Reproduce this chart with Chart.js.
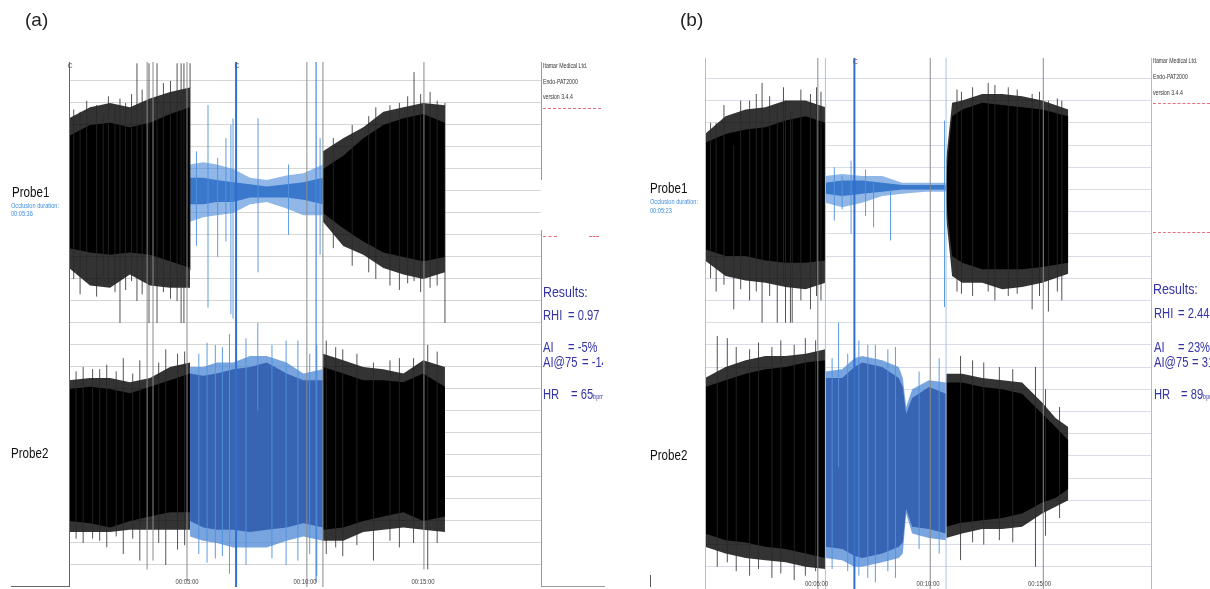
<!DOCTYPE html>
<html>
<head>
<meta charset="utf-8">
<script src="https://cdn.jsdelivr.net/npm/chart.js@4.4.0/dist/chart.umd.min.js"></script>
<style>
  body { margin: 0; width: 1210px; height: 589px; overflow: hidden; background: #fff; position: relative;
         font-family: "Liberation Sans", Arial, sans-serif; }
  canvas { position: absolute; top: 0; }
  .t { position: absolute; white-space: pre; line-height: 1; }
  .n { transform: scaleX(0.8); transform-origin: 0 0; }
  .probe { font-size: 14.5px; color: #111; }
  .occ { font-size: 7px; color: #3d8de0; }
  .hdr { font-size: 6.5px; color: #333; }
  .res { font-size: 14px; color: #3434a6; }
  .res small { font-size: 7px; }
  .clip { position: absolute; overflow: hidden; top: 0; height: 589px; }
  .red { position: absolute; height: 0; border-top: 1px dashed #e27080; }
</style>
</head>
<body>
<canvas id="chartA" width="605" height="589" style="left:0"></canvas>
<canvas id="chartB" width="570" height="589" style="left:640px"></canvas>

<!-- panel (a) text -->
<div class="t" style="left:25px;top:10px;font-size:19px;color:#222">(a)</div>
<div class="t n probe" style="left:12px;top:185px">Probe1</div>
<div class="t n occ" style="left:11px;top:202px">Occlusion duration:</div>
<div class="t n occ" style="left:11px;top:210px">00:05:36</div>
<div class="t n probe" style="left:11px;top:446px">Probe2</div>
<div style="position:absolute;left:541px;top:180px;width:20px;height:50px;background:#fff"></div>
<div class="clip" style="left:541px;width:62px">
  <div class="t n hdr" style="left:2px;top:63px">Itamar Medical Ltd.</div>
  <div class="t n hdr" style="left:2px;top:79px">Endo-PAT2000</div>
  <div class="t n hdr" style="left:2px;top:94px">version 3.4.4</div>
  <div class="red" style="left:2px;top:108px;width:58px"></div>
  <div class="red" style="left:2px;top:236px;width:14px"></div>
  <div class="red" style="left:48px;top:236px;width:10px"></div>
  <div class="t n res" style="left:2px;top:284px;font-size:15.5px">Results:</div>
  <div class="t n res" style="left:2px;top:308px">RHI</div>
  <div class="t n res" style="left:27px;top:308px">= 0.97</div>
  <div class="t n res" style="left:2px;top:340px">AI</div>
  <div class="t n res" style="left:27px;top:340px">= -5%</div>
  <div class="t n res" style="left:2px;top:355px">AI@75</div>
  <div class="t n res" style="left:41px;top:355px">= -14</div>
  <div class="t n res" style="left:2px;top:387px">HR</div>
  <div class="t n res" style="left:30px;top:387px">= 65<small>bpm</small></div>
</div>

<!-- panel (b) text -->
<div class="t" style="left:680px;top:10px;font-size:19px;color:#222">(b)</div>
<div class="t n probe" style="left:650px;top:181px">Probe1</div>
<div class="t n occ" style="left:650px;top:198px">Occlusion duration:</div>
<div class="t n occ" style="left:650px;top:207px">00:05:23</div>
<div class="t n probe" style="left:650px;top:448px">Probe2</div>
<div style="position:absolute;left:650px;top:575px;width:1px;height:12px;background:#555"></div>
<div class="clip" style="left:1151px;width:59px">
  <div class="t n hdr" style="left:2px;top:58px">Itamar Medical Ltd.</div>
  <div class="t n hdr" style="left:2px;top:74px">Endo-PAT2000</div>
  <div class="t n hdr" style="left:2px;top:90px">version 3.4.4</div>
  <div class="red" style="left:2px;top:103px;width:57px"></div>
  <div class="red" style="left:2px;top:232px;width:57px"></div>
  <div class="t n res" style="left:2px;top:281px;font-size:15.5px">Results:</div>
  <div class="t n res" style="left:3px;top:306px">RHI</div>
  <div class="t n res" style="left:27px;top:306px">= 2.44</div>
  <div class="t n res" style="left:3px;top:340px">AI</div>
  <div class="t n res" style="left:27px;top:340px">= 23%</div>
  <div class="t n res" style="left:3px;top:355px">AI@75</div>
  <div class="t n res" style="left:41px;top:355px">= 31</div>
  <div class="t n res" style="left:3px;top:387px">HR</div>
  <div class="t n res" style="left:30px;top:387px">= 89<small>bpm</small></div>
</div>

<script>
// time axis (minutes) and tick labels
const timeTicks = [5, 10, 15];
const tickLabels = ["00:05:00", "00:10:00", "00:15:00"];

// envelope rows: [time min, outer top, inner top, inner bottom, outer bottom]  (grid units)
// panel (a) probe 1
const a1Pre = [
  [0.00, 21.3, 20.5, 15.4, 14.5], [0.89, 21.8, 21.0, 15.2, 13.7], [1.74, 22.0, 21.1, 15.1, 13.6],
  [2.58, 21.8, 20.9, 15.2, 14.2], [3.43, 22.2, 21.1, 15.1, 13.7], [4.28, 22.5, 21.5, 14.8, 13.6],
  [5.13, 22.7, 21.8, 14.5, 13.6]
];
const a1Occ = [
  [5.13, 19.2, 18.6, 17.4, 16.6], [5.69, 19.3, 18.6, 17.4, 16.8], [6.26, 19.2, 18.5, 17.5, 16.9],
  [6.96, 19.0, 18.4, 17.5, 17.0], [7.67, 18.6, 18.3, 17.7, 17.4], [8.38, 18.5, 18.2, 17.7, 17.5],
  [9.22, 18.7, 18.3, 17.7, 17.2], [9.93, 18.8, 18.4, 17.6, 16.9], [10.76, 19.2, 18.6, 17.4, 16.9]
];
const a1Post = [
  [10.76, 19.8, 19.0, 17.0, 16.6], [11.62, 20.4, 19.6, 16.3, 15.5], [12.47, 20.9, 20.4, 15.7, 15.1],
  [13.32, 21.6, 21.0, 15.2, 14.5], [14.17, 21.8, 21.3, 15.0, 14.2], [15.01, 22.0, 21.5, 14.8, 14.0],
  [15.93, 21.9, 21.1, 15.0, 14.3]
];
// panel (a) probe 2
const a2Pre = [
  [0.00, 9.4, 9.0, 3.0, 2.5], [0.89, 9.5, 9.1, 2.9, 2.5], [1.74, 9.5, 9.0, 2.7, 2.5],
  [2.58, 9.3, 8.8, 3.0, 2.6], [3.43, 9.5, 9.1, 3.2, 2.6], [4.28, 10.0, 9.4, 3.4, 2.6],
  [5.13, 10.2, 9.7, 3.4, 2.6]
];
const a2Occ = [
  [5.13, 10.0, 9.7, 3.0, 2.3], [5.69, 10.0, 9.6, 2.7, 2.1], [6.26, 10.2, 9.7, 2.6, 2.0],
  [6.96, 10.2, 9.9, 2.6, 1.8], [7.67, 10.5, 10.0, 2.5, 1.8], [8.38, 10.5, 10.2, 2.6, 1.8],
  [9.22, 10.2, 9.7, 2.7, 2.1], [9.93, 9.7, 9.4, 2.9, 2.3], [10.76, 9.9, 9.4, 2.7, 2.1]
];
const a2Post = [
  [10.76, 10.6, 10.0, 2.6, 2.1], [11.62, 10.3, 9.7, 2.7, 2.1], [12.47, 10.0, 9.4, 3.0, 2.5],
  [13.32, 9.9, 9.4, 3.2, 2.6], [14.17, 9.7, 9.3, 3.4, 2.7], [15.01, 10.3, 9.7, 3.0, 2.6],
  [15.93, 10.0, 9.1, 3.2, 2.5]
];
// panel (b) probe 1
const b1Pre = [
  [0.00, 20.5, 20.1, 15.3, 14.8], [0.92, 21.3, 20.5, 15.0, 14.1], [1.82, 21.6, 20.7, 15.0, 13.9],
  [2.71, 21.7, 20.8, 14.8, 13.8], [3.61, 22.0, 21.1, 14.7, 13.6], [4.51, 22.0, 21.3, 14.7, 13.5],
  [5.40, 21.7, 21.0, 14.8, 13.8]
];
const b1Occ = [
  [5.40, 18.6, 18.3, 17.8, 17.4], [6.15, 18.7, 18.4, 17.7, 17.2], [7.05, 18.6, 18.4, 17.8, 17.4],
  [7.95, 18.6, 18.3, 17.9, 17.7], [8.84, 18.3, 18.2, 18.0, 17.8], [9.89, 18.3, 18.2, 18.0, 17.9],
  [10.81, 18.3, 18.2, 18.0, 17.9]
];
const b1Post = [
  [10.81, 19.3, 18.6, 17.5, 16.8], [11.08, 21.9, 21.3, 15.0, 14.1], [11.53, 22.0, 21.6, 14.7, 13.8],
  [12.43, 22.3, 21.9, 14.4, 13.8], [13.33, 22.3, 21.8, 14.4, 13.5], [14.22, 22.2, 21.7, 14.4, 13.6],
  [15.12, 22.0, 21.6, 14.5, 13.8], [16.29, 21.6, 21.3, 14.7, 14.2]
];
// panel (b) probe 2
const b2Pre = [
  [0.00, 9.5, 9.1, 2.5, 1.9], [0.92, 10.0, 9.4, 2.2, 1.6], [1.82, 10.3, 9.7, 2.1, 1.4],
  [2.71, 10.5, 9.9, 1.9, 1.3], [3.61, 10.5, 10.0, 1.8, 1.2], [4.51, 10.6, 10.2, 1.6, 1.0],
  [5.40, 10.8, 10.3, 1.4, 0.9]
];
const b2Occ = [
  [5.40, 9.8, 9.5, 1.9, 1.4], [6.15, 9.9, 9.5, 1.8, 1.3], [6.70, 10.4, 10.0, 1.5, 1.0],
  [7.05, 10.5, 10.2, 1.4, 1.0], [7.95, 10.3, 10.0, 1.6, 1.2], [8.69, 10.0, 9.5, 1.9, 1.4],
  [8.87, 9.5, 9.1, 2.1, 1.6], [9.02, 8.2, 7.9, 3.6, 3.4], [9.29, 9.0, 8.6, 2.8, 2.5],
  [10.04, 9.4, 9.1, 2.7, 2.3], [10.81, 9.3, 8.8, 2.5, 2.2]
];
const b2Post = [
  [10.81, 9.7, 9.3, 2.8, 2.3], [11.53, 9.7, 9.3, 3.0, 2.5], [12.43, 9.5, 9.1, 3.1, 2.7],
  [13.33, 9.4, 9.0, 3.2, 2.7], [14.22, 9.3, 8.8, 3.4, 2.8], [15.12, 8.4, 7.9, 3.9, 3.4],
  [15.72, 7.7, 7.3, 4.1, 3.7], [16.29, 7.3, 6.7, 4.5, 4.0]
];

// artifact spikes: [time, low, high]
const spikesGrayA = [
  [0.20, 14.0, 21.7], [0.47, 13.3, 21.6], [0.75, 13.9, 22.1], [1.17, 13.2, 21.9], [1.45, 14.1, 21.5],
  [1.67, 13.8, 22.3], [1.95, 13.4, 21.8], [2.16, 12.0, 22.2], [2.40, 13.5, 22.0], [2.65, 13.9, 22.4],
  [2.88, 13.0, 23.8], [3.10, 13.3, 22.6], [3.39, 12.0, 23.8], [3.73, 12.0, 23.8], [4.00, 13.4, 22.9],
  [4.30, 13.1, 23.0], [4.58, 13.0, 23.8], [4.75, 12.0, 23.8], [4.87, 12.0, 23.8], [5.13, 14.4, 23.8],
  [11.20, 15.4, 20.4], [12.00, 14.6, 21.0], [12.70, 14.3, 21.4], [13.00, 14.0, 21.8], [13.60, 13.7, 21.9],
  [14.00, 13.5, 22.0], [14.35, 13.8, 22.3], [14.62, 13.9, 23.4], [14.90, 13.4, 22.4], [15.30, 13.6, 22.5],
  [15.60, 13.7, 22.1], [15.93, 12.0, 22.0],
  [0.30, 2.2, 9.8], [0.60, 2.0, 10.0], [1.00, 2.2, 9.9], [1.30, 2.1, 9.9], [1.60, 1.8, 10.1],
  [2.00, 2.3, 9.8], [2.30, 1.5, 10.4], [2.70, 2.2, 9.7], [3.00, 1.2, 10.3], [3.80, 2.0, 10.2],
  [4.10, 1.0, 10.8], [4.60, 1.7, 10.6], [4.90, 1.9, 10.7], [10.90, 1.5, 11.2], [11.30, 1.8, 10.9],
  [11.60, 1.4, 10.8], [12.20, 1.9, 10.6], [12.90, 1.2, 10.2], [13.60, 2.1, 10.3], [14.00, 1.8, 10.4],
  [14.60, 2.0, 10.4], [15.20, 0.8, 11.0], [15.60, 2.0, 10.7]
];
const spikesBlueA = [
  [5.40, 15.5, 19.8], [5.89, 12.7, 21.9], [6.30, 15.0, 19.5], [6.65, 15.7, 20.4], [6.86, 12.4, 21.0],
  [6.95, 12.2, 21.3], [8.01, 14.3, 21.3], [9.30, 16.0, 19.2], [10.64, 15.1, 20.4],
  [5.50, 1.5, 10.6], [5.85, 1.1, 11.1], [6.20, 1.3, 11.0], [6.50, 1.4, 10.9], [6.80, 0.6, 11.5],
  [7.50, 1.0, 11.3], [8.00, 8.0, 12.0], [8.60, 1.3, 11.0], [9.20, 1.0, 11.2], [9.70, 1.2, 11.2],
  [10.20, 1.5, 10.6], [10.50, 0.5, 11.0]
];
const spikesGrayB = [
  [0.25, 14.0, 21.0], [0.50, 13.4, 21.0], [0.85, 13.7, 21.8], [1.29, 12.6, 20.0], [1.60, 13.5, 22.0],
  [2.00, 13.0, 22.0], [2.30, 13.4, 22.3], [2.56, 12.0, 22.8], [2.90, 13.2, 22.2], [3.24, 12.0, 21.8],
  [3.52, 13.8, 22.6], [3.61, 12.0, 22.0], [3.83, 12.0, 21.5], [3.91, 12.0, 21.5], [4.30, 13.0, 22.5],
  [4.73, 12.6, 22.3], [5.00, 13.2, 22.6], [5.20, 13.0, 22.4],
  [11.30, 13.4, 22.5], [11.50, 13.3, 22.4], [12.00, 13.2, 22.6], [12.70, 13.4, 22.8], [13.00, 13.0, 22.7],
  [13.60, 13.2, 22.6], [14.00, 13.3, 22.5], [14.67, 12.6, 22.3], [15.00, 13.2, 22.4], [15.40, 12.5, 22.0],
  [15.80, 13.4, 22.1], [16.00, 13.0, 22.0],
  [0.55, 1.0, 11.4], [1.00, 1.2, 11.3], [1.40, 0.8, 10.9], [2.00, 0.6, 10.8], [2.40, 0.9, 11.1],
  [3.00, 0.5, 10.9], [3.40, 0.7, 11.2], [4.00, 0.4, 11.0], [4.50, 0.6, 11.3], [4.96, 0.8, 11.2],
  [11.46, 1.3, 10.5], [12.00, 2.1, 10.3], [12.50, 2.0, 10.2], [13.20, 2.2, 10.0], [13.80, 2.1, 9.9],
  [14.82, 1.0, 10.0], [15.27, 2.4, 9.0], [15.90, 3.2, 8.2]
];
const spikesBlueB = [
  [5.80, 16.6, 19.0], [6.15, 17.1, 18.6], [6.55, 16.0, 19.3], [7.20, 16.8, 18.9], [7.56, 16.3, 18.3],
  [8.32, 15.7, 18.0], [10.74, 12.7, 21.1],
  [5.70, 0.9, 10.4], [5.99, 5.5, 12.0], [6.40, 0.8, 10.6], [6.90, 0.6, 11.2], [7.30, 0.5, 11.0],
  [7.64, 0.3, 11.0], [8.20, 0.8, 10.8], [8.54, 0.5, 10.9], [9.60, 1.8, 9.8], [10.50, 1.6, 10.4]
];

// event markers: [time, kind, low, high]; C labels
const markersA = [
  [3.31, "gray", 0.8, 23.86], [3.56, "gray", 1.2, 23.86], [5.00, "gray", 0.3, 23.86], [7.08, "cuff", 0, 23.86],
  [10.08, "gray", 0, 23.86], [10.47, "blue", 0.2, 23.86], [10.76, "gray", 0, 23.86], [15.04, "gray", 0.8, 23.86]
];
const cLabelsA = [0, 7.08];
const markersB = [
  [5.06, "gray", 0, 23.92], [5.40, "light", 0, 23.92], [6.70, "cuff", 0, 23.92],
  [10.10, "gray", 0, 23.92], [10.81, "light", 0, 23.92], [15.17, "gray", 0, 23.92]
];
const cLabelsB = [6.70];

const markerStyle = {
  gray: ["#8a8a8a", 1], blue: ["#4a86da", 1.2], light: ["#a9c1e8", 1], cuff: ["#2f6fd0", 2]
};

function envelope(rows, inner, fringe) {
  const pts = c => rows.map(r => ({x: r[0], y: r[c]}));
  const base = {pointRadius: 0, borderColor: "rgba(0,0,0,0)", borderWidth: 1, tension: 0};
  return [
    {...base, data: pts(1), fill: false, order: 6},
    {...base, data: pts(4), fill: "-1", backgroundColor: fringe, order: 6},
    {...base, data: pts(2), fill: false, order: 5},
    {...base, data: pts(3), fill: "-1", backgroundColor: inner, order: 5}
  ];
}

function vlines(list, color, width, order) {
  const data = [];
  list.forEach(s => { data.push({x: s[0], y: s[1]}, {x: s[0], y: s[2]}, {x: s[0], y: null}); });
  return {data, borderColor: color, borderWidth: width, pointRadius: 0, fill: false, spanGaps: false, order};
}

function markerSets(markers) {
  return Object.keys(markerStyle).map(k => {
    const sel = markers.filter(m => m[1] === k).map(m => [m[0], m[2], m[3]]);
    return vlines(sel, markerStyle[k][0], markerStyle[k][1], 1);
  });
}

const overlay = {
  id: "overlay",
  afterDatasetsDraw(chart, args, o) {
    const {ctx, chartArea: ca, scales: {x}} = chart;
    ctx.save();
    ctx.lineWidth = 1;
    ctx.strokeStyle = o.leftColor;
    ctx.beginPath();
    ctx.moveTo(ca.left + 0.5, ca.top); ctx.lineTo(ca.left + 0.5, ca.bottom);
    if (o.footLeft) { ctx.moveTo(ca.left - o.footLeft, ca.bottom - 0.5); ctx.lineTo(ca.left, ca.bottom - 0.5); }
    ctx.stroke();
    ctx.strokeStyle = o.rightColor;
    ctx.beginPath();
    ctx.moveTo(ca.right + 0.5, ca.top); ctx.lineTo(ca.right + 0.5, ca.bottom);
    if (o.footRight) { ctx.moveTo(ca.right, ca.bottom - 0.5); ctx.lineTo(ca.right + o.footRight, ca.bottom - 0.5); }
    ctx.stroke();
    ctx.font = '7px "Liberation Sans", sans-serif';
    ctx.fillStyle = "#444";
    ctx.textAlign = "center";
    ctx.textBaseline = "middle";
    timeTicks.forEach((v, i) => {
      ctx.save();
      ctx.translate(x.getPixelForValue(v), ca.bottom - 5);
      ctx.scale(0.85, 1);
      ctx.fillText(tickLabels[i], 0, 0);
      ctx.restore();
    });
    ctx.fillStyle = "#555";
    o.cLabels.forEach(t => ctx.fillText("C", x.getPixelForValue(t) + 1, ca.top + 4));
    ctx.restore();
  }
};

function makeChart(id, p, yMax, gridColor, sets, ov) {
  new Chart(document.getElementById(id), {
    type: "line",
    data: {datasets: sets},
    options: {
      responsive: false,
      devicePixelRatio: 1,
      animation: false,
      events: [],
      layout: {padding: p},
      plugins: {legend: {display: false}, tooltip: {enabled: false}, overlay: ov},
      scales: {
        x: {type: "linear", min: 0, max: 20, display: false},
        y: {
          type: "linear", min: 0, max: yMax,
          afterFit(s) { s.width = 0; },
          ticks: {display: false, stepSize: 1},
          border: {display: false},
          grid: {drawTicks: false, lineWidth: 1,
                 color: c => (Number.isInteger(c.tick.value) && c.tick.value > 0) ? gridColor : "rgba(0,0,0,0)"}
        }
      }
    },
    plugins: [overlay]
  });
}

const black = "#000000", blackFringe = "rgba(0,0,0,0.8)";
const blue1 = "#3a78cc", blue1Fringe = "rgba(70,135,215,0.6)";
const blue2 = "#3765b4", blue2Fringe = "rgba(75,135,212,0.75)";
const graySpike = "rgba(40,40,40,0.8)", blueSpike = "rgba(80,145,222,0.9)";

makeChart("chartA", {left: 69, right: 64, top: 62, bottom: 2}, 23.86, "#d6d6d6", [
  ...markerSets(markersA),
  vlines(spikesGrayA, graySpike, 1, 3),
  vlines(spikesBlueA, blueSpike, 1, 3),
  ...envelope(a1Pre, black, blackFringe), ...envelope(a1Occ, blue1, blue1Fringe), ...envelope(a1Post, black, blackFringe),
  ...envelope(a2Pre, black, blackFringe), ...envelope(a2Occ, blue2, blue2Fringe), ...envelope(a2Post, black, blackFringe)
], {leftColor: "#666", rightColor: "#999", footLeft: 58, footRight: 64, cLabels: cLabelsA});

makeChart("chartB", {left: 65, right: 59, top: 58, bottom: 0}, 23.92, "#d8dde5", [
  ...markerSets(markersB),
  vlines(spikesGrayB, graySpike, 1, 3),
  vlines(spikesBlueB, blueSpike, 1, 3),
  ...envelope(b1Pre, black, blackFringe), ...envelope(b1Occ, blue1, blue1Fringe), ...envelope(b1Post, black, blackFringe),
  ...envelope(b2Pre, black, blackFringe), ...envelope(b2Occ, blue2, blue2Fringe), ...envelope(b2Post, black, blackFringe)
], {leftColor: "#bbb", rightColor: "#bbb", footLeft: 0, footRight: 0, cLabels: cLabelsB});
</script>
</body>
</html>
